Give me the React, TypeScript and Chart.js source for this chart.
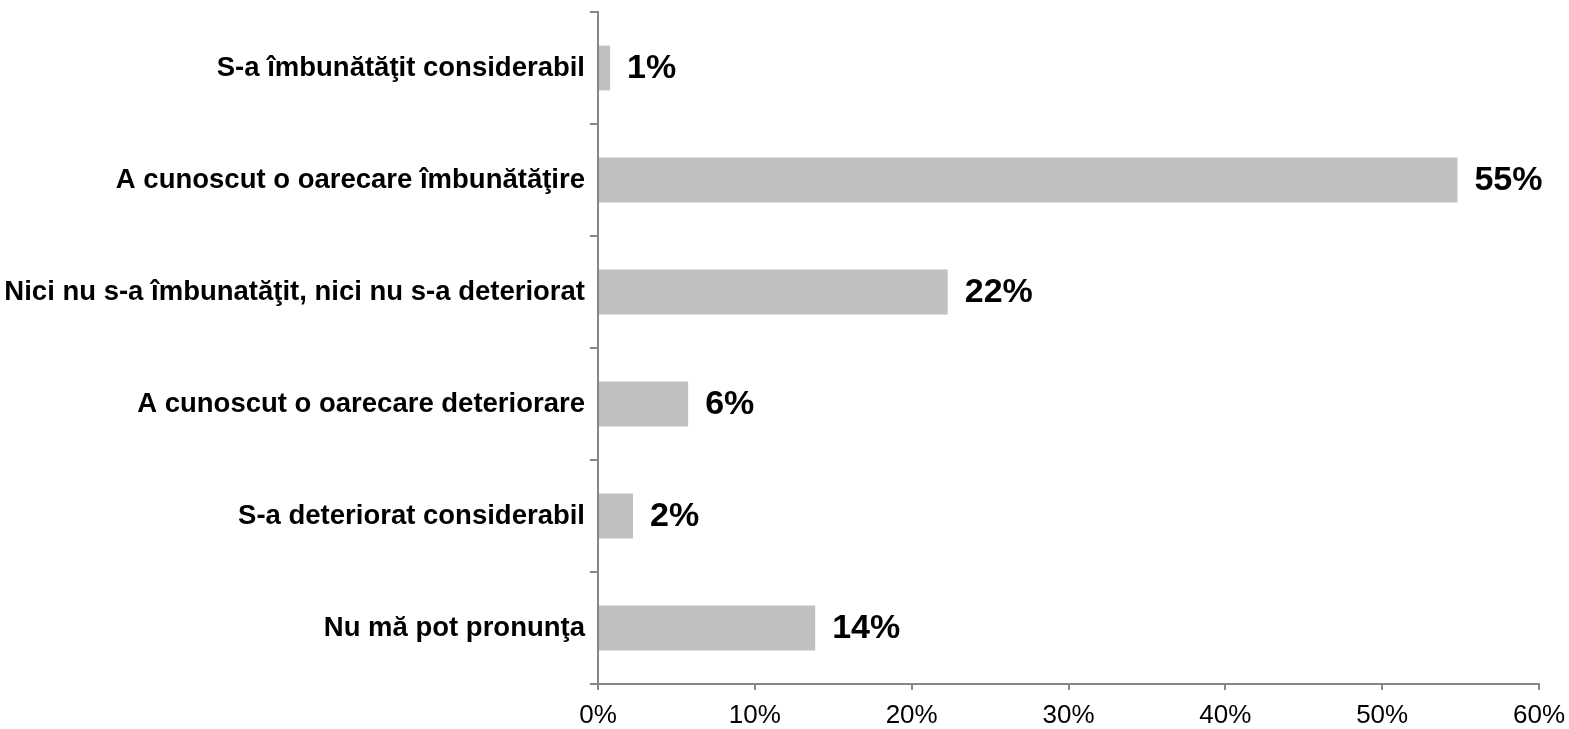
import React, { useEffect, useRef } from "react";
import { Chart, registerables } from "chart.js";

Chart.register(...registerables);

const categories = [
  "S-a îmbunătăţit considerabil",
  "A cunoscut o oarecare îmbunătăţire",
  "Nici nu s-a îmbunatăţit, nici nu s-a deteriorat",
  "A cunoscut o oarecare deteriorare",
  "S-a deteriorat considerabil",
  "Nu mă pot pronunţa",
];
const values = [0.77, 54.8, 22.3, 5.75, 2.23, 13.85];
const valueLabels = ["1%", "55%", "22%", "6%", "2%", "14%"];
const xTicks = [0, 10, 20, 30, 40, 50, 60];

const FONT = "'Liberation Sans', Arial, sans-serif";
const AXIS = "#868686";

const valueLabelPlugin = {
  id: "valueLabels",
  afterDatasetsDraw(chart: any) {
    const ctx = chart.ctx;
    const meta = chart.getDatasetMeta(0);
    ctx.save();
    ctx.font = `bold 34px ${FONT}`;
    ctx.fillStyle = "#000";
    ctx.textAlign = "left";
    ctx.textBaseline = "middle";
    meta.data.forEach((el: any, i: number) => {
      ctx.fillText(valueLabels[i], el.x + 17, el.y + 1);
    });
    ctx.restore();
  },
};

export default function App() {
  const ref = useRef<HTMLCanvasElement>(null);
  useEffect(() => {
    if (!ref.current) return;
    const chart = new Chart(ref.current, {
      type: "bar",
      data: {
        labels: categories,
        datasets: [
          {
            data: values,
            backgroundColor: "#C0C0C0",
            borderWidth: 0,
            categoryPercentage: 1,
            barPercentage: 0.4,
          },
        ],
      },
      options: {
        indexAxis: "y",
        animation: false,
        responsive: true,
        maintainAspectRatio: false,
        layout: { padding: { top: 12, right: 30, left: 0, bottom: 0 } },
        plugins: { legend: { display: false }, tooltip: { enabled: false } },
        scales: {
          x: {
            min: 0,
            max: 60,
            afterBuildTicks: (scale: any) => {
              scale.ticks = xTicks.map((v) => ({ value: v }));
            },
            ticks: {
              callback: (v: any) => v + "%",
              font: { family: FONT, size: 26 },
              color: "#000",
              padding: 10,
              maxRotation: 0,
              autoSkip: false,
            },
            grid: { drawOnChartArea: false, drawTicks: true, tickLength: 6, color: AXIS, lineWidth: 2 },
            border: { display: true, color: AXIS, width: 2 },
            afterFit: (scale: any) => {
              scale.height = 45;
              scale.paddingLeft = 0;
              scale.paddingRight = 0;
            },
          },
          y: {
            ticks: {
              font: { family: FONT, size: 27.5, weight: "bold" },
              color: "#000",
              padding: 5,
              autoSkip: false,
            },
            grid: { drawOnChartArea: false, drawTicks: true, tickLength: 8, color: AXIS, lineWidth: 2, offset: true },
            border: { display: true, color: AXIS, width: 2 },
            afterFit: (scale: any) => {
              scale.width = 598;
              scale.paddingTop = 0;
              scale.paddingBottom = 0;
            },
          },
        },
      },
      plugins: [valueLabelPlugin],
    });
    return () => chart.destroy();
  }, []);
  return (
    <div style={{ position: "fixed", left: 0, top: 0, width: 1569, height: 729, background: "#fff" }}>
      <canvas ref={ref} />
    </div>
  );
}
